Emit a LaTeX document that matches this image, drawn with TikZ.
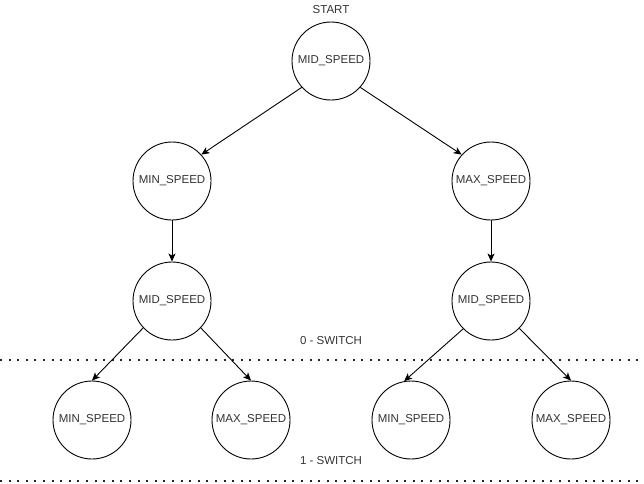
\documentclass[tikz,border=0pt]{standalone}
\usepackage{fontspec}
\setmainfont{Liberation Sans}
\usetikzlibrary{arrows.meta}
\begin{document}
\begin{tikzpicture}[x=1pt,y=-1pt,
  state/.style={circle,draw,line width=0.9pt,minimum size=78pt,inner sep=0pt,font=\fontsize{11.5}{13}\selectfont,text=black!80},
  lbl/.style={font=\fontsize{11.5}{13}\selectfont,text=black!80},
  conn/.style={line width=0.9pt,-{Stealth[length=8pt,width=7pt,inset=2pt]}},
  sep/.style={line width=2pt,dash pattern=on 2pt off 6.6pt,black!85}]
\useasboundingbox (0,0) rectangle (644,483);
\node[state] (top) at (331,61) {MID\_SPEED};
\node[lbl] (start) at (331,10) {START};
\node[state] (minA) at (172,181) {MIN\_SPEED};
\node[state] (maxA) at (491,181) {MAX\_SPEED};
\node[state] (midL) at (172,301) {MID\_SPEED};
\node[state] (midR) at (491,301) {MID\_SPEED};
\node[state] (b1) at (92,420) {MIN\_SPEED};
\node[state] (b2) at (251,420) {MAX\_SPEED};
\node[state] (b3) at (411,420) {MIN\_SPEED};
\node[state] (b4) at (571,420) {MAX\_SPEED};
\node[lbl] (sw0) at (331,341) {0 - SWITCH};
\node[lbl] (sw1) at (331,461) {1 - SWITCH};
\coordinate (l1a) at (0,360);
\coordinate (l1b) at (644,360);
\coordinate (l2a) at (0,480.5);
\coordinate (l2b) at (644,480.5);
\draw[sep] (l1a) -- (l1b);
\draw[sep] (l2a) -- (l2b);
\draw[conn] (top.222) -- (minA.42);
\draw[conn] (top.318) -- (maxA.138);
\draw[conn] (minA) -- (midL);
\draw[conn] (maxA) -- (midR);
\draw[conn] (midL.223) -- (b1.north);
\draw[conn] (midL.317) -- (b2.north);
\draw[conn] (midR.225) -- (b3.100);
\draw[conn] (midR.316) -- (b4.north);
\end{tikzpicture}
\end{document}
